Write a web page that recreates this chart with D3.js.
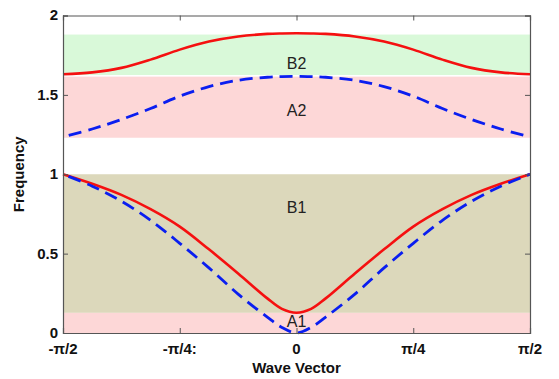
<!DOCTYPE html>
<html>
<head>
<meta charset="utf-8">
<script src="https://cdn.jsdelivr.net/npm/d3@7"></script>
<style>
  html, body { margin: 0; padding: 0; background: #fff; }
  svg { display: block; }
</style>
</head>
<body>
<svg id="chart" width="559" height="379"></svg>
<script>
// Wave vector samples, as fractions of pi/2 (from -pi/2 to pi/2)
const kFrac = [-1, -0.875, -0.75, -0.625, -0.5, -0.375, -0.25, -0.125, -0.0625, 0,
               0.0625, 0.125, 0.25, 0.375, 0.5, 0.625, 0.75, 0.875, 1];

// Upper branch (red, solid)
const bandB2 = [1.630, 1.642, 1.670, 1.722, 1.785, 1.836, 1.868, 1.884, 1.887, 1.888,
                1.887, 1.884, 1.868, 1.836, 1.785, 1.722, 1.670, 1.642, 1.630];
const bandB1 = [1.000, 0.940, 0.870, 0.780, 0.670, 0.527, 0.375, 0.218, 0.152, 0.128,
                0.152, 0.218, 0.375, 0.527, 0.670, 0.780, 0.870, 0.940, 1.000];

// Lower branch (blue, dashed)
const bandA2 = [1.236, 1.285, 1.345, 1.414, 1.492, 1.552, 1.592, 1.611, 1.615, 1.617,
                1.615, 1.611, 1.592, 1.552, 1.492, 1.414, 1.345, 1.285, 1.236];
const bandA1 = [1.000, 0.925, 0.830, 0.710, 0.565, 0.410, 0.245, 0.100, 0.035, 0.000,
                0.035, 0.100, 0.245, 0.410, 0.565, 0.710, 0.830, 0.925, 1.000];

// Frequency ranges covered by each band
const bandNames = ["B2", "A2", "B1", "A1"];
const bandLow   = [1.625, 1.230, 0.127, 0.000];
const bandHigh  = [1.880, 1.615, 1.000, 0.127];
const bandFill  = ["#d9f9d9", "#fdd7d7", "#dcd8bb", "#fdd7d7"];
const labelFreq = [1.70, 1.40, 0.79, 0.07];

// Axis ticks
const xTickFrac   = [-1, -0.5, 0, 0.5, 1];
const xTickLabels = ["-\u03c0/2", "-\u03c0/4:", "0", "\u03c0/4", "\u03c0/2"];
const yTicks      = [0, 0.5, 1, 1.5, 2];

const svg = d3.select("#chart");
const margin = { top: 15.5, right: 29, bottom: 46, left: 63 };
const W = 559, H = 379;
const iw = W - margin.left - margin.right;
const ih = H - margin.top - margin.bottom;

const x = d3.scaleLinear().domain([-Math.PI / 2, Math.PI / 2]).range([0, iw]);
const y = d3.scaleLinear().domain([0, 2]).range([ih, 0]);

const g = svg.append("g").attr("transform", `translate(${margin.left},${margin.top})`);

// Shaded frequency bands
g.selectAll("rect.band")
  .data(bandNames.map((n, i) => ({ n, lo: bandLow[i], hi: bandHigh[i], c: bandFill[i] })))
  .join("rect")
  .attr("class", "band")
  .attr("x", 0)
  .attr("width", iw)
  .attr("y", d => y(d.hi))
  .attr("height", d => y(d.lo) - y(d.hi))
  .attr("fill", d => d.c);

// Band labels
const font = "'Liberation Sans', Arial, sans-serif";
g.selectAll("text.bandlabel")
  .data(bandNames.map((n, i) => ({ n, f: labelFreq[i] })))
  .join("text")
  .attr("class", "bandlabel")
  .attr("x", x(0))
  .attr("y", d => y(d.f))
  .attr("text-anchor", "middle")
  .attr("dominant-baseline", "central")
  .attr("font-family", font)
  .attr("font-size", 16)
  .attr("fill", "#222")
  .text(d => d.n);

const toPts = vals => kFrac.map((f, i) => [f * Math.PI / 2, vals[i]]);
const line = d3.line().x(d => x(d[0])).y(d => y(d[1])).curve(d3.curveCatmullRom.alpha(0.5));

// Upper curves: red solid
[bandB2, bandB1].forEach(v => {
  g.append("path").attr("d", line(toPts(v)))
    .attr("fill", "none").attr("stroke", "#f51010").attr("stroke-width", 2.6);
});
// Lower curves: blue dashed
[bandA2, bandA1].forEach(v => {
  g.append("path").attr("d", line(toPts(v)))
    .attr("fill", "none").attr("stroke", "#0a1ef0").attr("stroke-width", 2.8)
    .attr("stroke-dasharray", "13,7").attr("stroke-dashoffset", -6);
});

// Axes box with inward ticks
const axisColor = "#555";
const tickVals = xTickFrac.map(f => f * Math.PI / 2);
const xb = d3.axisBottom(x).tickValues(tickVals).tickSize(-5).tickFormat("");
const xt = d3.axisTop(x).tickValues(tickVals).tickSize(-5).tickFormat("");
const yl = d3.axisLeft(y).tickValues(yTicks).tickSize(-5).tickFormat("");
const yr = d3.axisRight(y).tickValues(yTicks).tickSize(-5).tickFormat("");
[[xb, `translate(0,${ih})`], [xt, "translate(0,0)"], [yl, "translate(0,0)"], [yr, `translate(${iw},0)`]]
  .forEach(([ax, tr]) => {
    const a = g.append("g").attr("transform", tr).call(ax);
    a.selectAll("path.domain").attr("stroke", axisColor).attr("stroke-width", 1.2);
    a.selectAll(".tick line").attr("stroke", axisColor);
  });

// Tick labels
g.selectAll("text.xtick")
  .data(xTickFrac.map((f, i) => ({ v: f * Math.PI / 2, t: xTickLabels[i] })))
  .join("text")
  .attr("class", "xtick")
  .attr("x", d => x(d.v))
  .attr("y", ih + 21)
  .attr("text-anchor", "middle")
  .attr("font-family", font).attr("font-weight", "bold").attr("font-size", 15)
  .attr("fill", "#111")
  .text(d => d.t);

g.selectAll("text.ytick")
  .data(yTicks)
  .join("text")
  .attr("class", "ytick")
  .attr("x", -5)
  .attr("y", d => y(d))
  .attr("dy", "0.33em")
  .attr("text-anchor", "end")
  .attr("font-family", font).attr("font-weight", "bold").attr("font-size", 15)
  .attr("fill", "#111")
  .text(d => d);

// Axis titles
svg.append("text")
  .attr("x", margin.left + x(0))
  .attr("y", 373)
  .attr("text-anchor", "middle")
  .attr("font-family", font).attr("font-weight", "bold").attr("font-size", 15)
  .attr("fill", "#111")
  .text("Wave Vector");

svg.append("text")
  .attr("transform", `translate(24,${margin.top + y(1)}) rotate(-90)`)
  .attr("text-anchor", "middle")
  .attr("font-family", font).attr("font-weight", "bold").attr("font-size", 15)
  .attr("fill", "#111")
  .text("Frequency");
</script>
</body>
</html>
